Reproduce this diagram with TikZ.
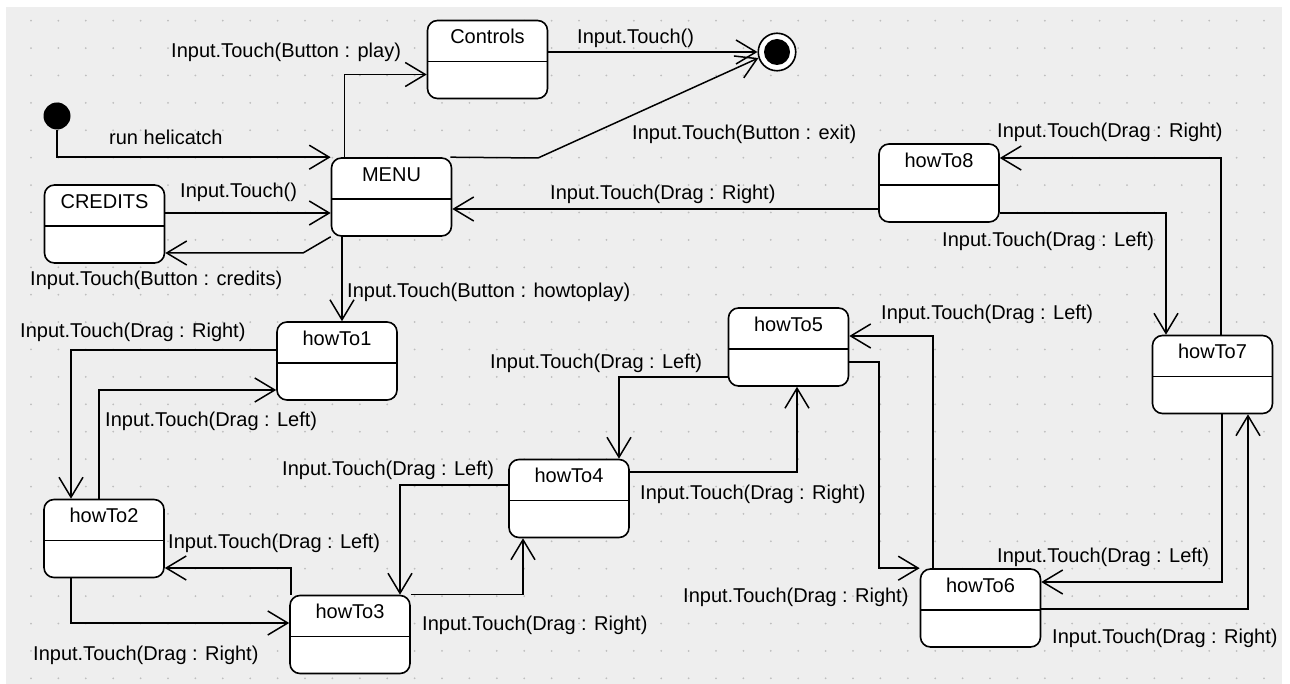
\documentclass[tikz,border=0pt]{standalone}
\usepackage{fontspec}
\setmainfont{Liberation Sans}
\usetikzlibrary{arrows.meta}
\newcommand\dfont{\fontsize{20}{24}\selectfont}
\begin{document}
\begin{tikzpicture}[x=1pt,y=-1pt,
  statebox/.style={draw=black, fill=white, rounded corners=10pt, minimum width=120pt, minimum height=78pt,
    line width=1.6pt, inner sep=0pt,
    path picture={\draw[line width=1.6pt] ([yshift=-41pt]path picture bounding box.north west) -- ([yshift=-41pt]path picture bounding box.north east);},
    label={[anchor=base, yshift=-24pt, font=\dfont, inner sep=0pt]north:#1}},
  tr/.style={draw=black, line width=1.5pt, -{Straight Barb[length=20pt, width=24pt]}},
  lbl/.style={font=\dfont, inner sep=0pt, anchor=base west}]
\useasboundingbox (0,0) rectangle (1290,684);
\fill[white] (0,0) rectangle (1290,684);
\fill[fill={rgb,255:red,238;green,238;blue,238}] (6,7) rectangle (1282,684);
\foreach \i in {0,...,45} \foreach \j in {0,...,24}
  \fill[fill={rgb,255:red,190;green,190;blue,190}] (31+27.4*\i, 20.7+27.4*\j) circle (1pt);

% states
\node[circle, fill=black, minimum size=27pt, inner sep=0pt] (init) at (57,116) {};
\node[circle, draw=black, line width=1.6pt, fill=white, minimum size=37.5pt, inner sep=0pt,
  path picture={\fill[black] (path picture bounding box.center) circle (13pt);}] (fin) at (777,52) {};
\node[statebox=Controls] (ctrl) at (487.5,59.5) {};
\node[statebox=MENU] (menu) at (391.5,197) {};
\node[statebox=CREDITS] (cred) at (104.5,224) {};
\node[statebox=howTo1] (h1) at (337,361) {};
\node[statebox=howTo2] (h2) at (104,538.5) {};
\node[statebox=howTo3] (h3) at (350,634.5) {};
\node[statebox=howTo4] (h4) at (569,498.5) {};
\node[statebox=howTo5] (h5) at (788.5,347) {};
\node[statebox=howTo6] (h6) at (980.5,608) {};
\node[statebox=howTo7] (h7) at (1212.5,374.5) {};
\node[statebox=howTo8] (h8) at (939,183) {};

% transitions
\draw[tr] (init.south) |- (menu.north west);
\draw[tr] ([xshift=14pt]menu.north west) |- ([yshift=-15pt]ctrl.west);
\draw[tr] (ctrl.east |- fin.west) -- (fin.west);
\draw[tr] ([xshift=-2pt]menu.north east) -- (538,158) -- (fin.198);
\draw[tr] (cred.east |- 0,213) -- (menu.west |- 0,213);
\draw[tr] (menu.south west) -- (303,253) -- (cred.east |- 0,253);
\draw[tr] (h8.west |- 0,209) -- (menu.east |- 0,209);
\draw[tr] (menu.south -| 342,0) -- (h1.north -| 342,0);
\draw[tr] (h8.east |- 0,213) -| (h7.north -| 1166,0);
\draw[tr] (h7.north -| 1221,0) |- (h8.east |- 0,158);
\draw[tr] (h1.west |- 0,350) -| (h2.north -| 71,0);
\draw[tr] (h2.north -| 99,0) |- (h1.west |- 0,390);
\draw[tr] (h2.south -| 71,0) |- (h3.west |- 0,623);
\draw[tr] (h3.north -| 291,0) |- (h2.east |- 0,568);
\draw[tr] (h4.west |- 0,485) -| (h3.north -| 400,0);
\draw[tr] (h3.north east) -| (h4.south -| 523,0);
\draw[tr] (h5.west |- 0,377) -| (h4.north -| 619,0);
\draw[tr] (h4.east |- 0,472) -| (h5.south -| 797,0);
\draw[tr] (h5.east |- 0,362) -- (879,362) |- (h6.north west);
\draw[tr] (h6.north -| 933,0) |- (h5.east |- 0,336);
\draw[tr] (h7.south -| 1222,0) |- (h6.east |- 0,582);
\draw[tr] (h6.east |- 0,609) -| (h7.south -| 1248,0);

% labels
\node[lbl] (t1) at (109,145) {run helicatch};
\node[lbl] (t2) at (171,58) {Input.Touch(Button : play)};
\node[lbl] (t3) at (577,44) {Input.Touch()};
\node[lbl] (t4) at (632,140) {Input.Touch(Button : exit)};
\node[lbl] (t5) at (180,198) {Input.Touch()};
\node[lbl] (t6) at (30,286) {Input.Touch(Button : credits)};
\node[lbl] (t7) at (550,200) {Input.Touch(Drag : Right)};
\node[lbl] (t8) at (347,298) {Input.Touch(Button : howtoplay)};
\node[lbl] (t9) at (942,247) {Input.Touch(Drag : Left)};
\node[lbl] (t10) at (997,138) {Input.Touch(Drag : Right)};
\node[lbl] (t11) at (20,338) {Input.Touch(Drag : Right)};
\node[lbl] (t12) at (105,426) {Input.Touch(Drag : Left)};
\node[lbl] (t13) at (33,660) {Input.Touch(Drag : Right)};
\node[lbl] (t14) at (168,548) {Input.Touch(Drag : Left)};
\node[lbl] (t15) at (282,475) {Input.Touch(Drag : Left)};
\node[lbl] (t16) at (422,630) {Input.Touch(Drag : Right)};
\node[lbl] (t17) at (490,368) {Input.Touch(Drag : Left)};
\node[lbl] (t18) at (640,499) {Input.Touch(Drag : Right)};
\node[lbl] (t19) at (683,602) {Input.Touch(Drag : Right)};
\node[lbl] (t20) at (881,320) {Input.Touch(Drag : Left)};
\node[lbl] (t21) at (997,562) {Input.Touch(Drag : Left)};
\node[lbl] (t22) at (1052,643) {Input.Touch(Drag : Right)};
\end{tikzpicture}
\end{document}
